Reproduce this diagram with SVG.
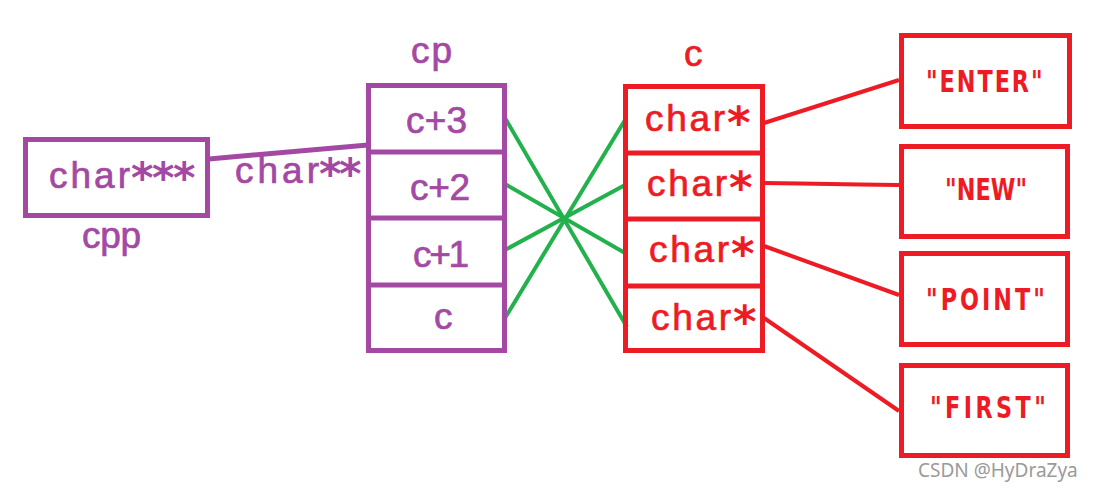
<svg xmlns="http://www.w3.org/2000/svg" width="1094" height="492" viewBox="0 0 1094 492">
<style>
.pbox{fill:none;stroke:#a349a4;stroke-width:5}
.rbox{fill:none;stroke:#ed1c24;stroke-width:5}
.pt{font-family:"Liberation Sans",Arial,sans-serif;font-size:37px;fill:#a349a4;stroke:#a349a4;stroke-width:0.7}
.rt{font-family:"Liberation Sans",Arial,sans-serif;font-size:37px;fill:#ed1c24;stroke:#ed1c24;stroke-width:0.7}
.pa{font-family:"DejaVu Sans",sans-serif;font-weight:bold;font-size:43px;fill:#a349a4}
.ra{font-family:"DejaVu Sans",sans-serif;font-weight:bold;font-size:45px;fill:#ed1c24}
.st{font-family:"DejaVu Sans",sans-serif;font-weight:bold;font-size:31px;fill:#ed1c24}
.g{stroke:#22b14c;stroke-width:4;fill:none}
.r{stroke:#ed1c24;stroke-width:4;fill:none}
.p{stroke:#a349a4;stroke-width:5;fill:none}
.wm{font-family:"Noto Sans","DejaVu Sans",sans-serif;font-size:19px;fill:#9a9a9a}
</style>
<g id="connectors">
<line class="p" x1="209" y1="159" x2="368" y2="145"/>
<text class="pt" x="235" y="183" textLength="84" lengthAdjust="spacing">char</text>
<text class="pa" x="319 339" y="189">**</text>
<line class="g" x1="505" y1="118" x2="627" y2="327"/>
<line class="g" x1="505" y1="184" x2="625" y2="253"/>
<line class="g" x1="505" y1="250" x2="625" y2="185"/>
<line class="g" x1="505" y1="318" x2="625" y2="120"/>
<line class="r" x1="764" y1="123" x2="899" y2="80"/>
<polyline class="r" points="764,183 800,183.5 860,184.5 899,185"/>
<line class="r" x1="764" y1="246" x2="899" y2="295"/>
<line class="r" x1="764" y1="318" x2="899" y2="411"/>
</g>
<g id="cpp">
<rect class="pbox" x="25.5" y="139.5" width="182" height="76"/>
<text class="pt" x="49" y="188" textLength="81" lengthAdjust="spacing">char</text>
<text class="pa" x="131 152 173" y="193">***</text>
<text class="pt" x="82" y="248" textLength="59" lengthAdjust="spacing">cpp</text>
</g>
<g id="cp">
<text class="pt" x="411" y="63" textLength="41" lengthAdjust="spacing">cp</text>
<rect class="pbox" x="368.5" y="85.5" width="136" height="265"/>
<line class="p" x1="368" y1="152" x2="505" y2="152"/>
<line class="p" x1="368" y1="218" x2="505" y2="218"/>
<line class="p" x1="368" y1="285" x2="505" y2="285"/>
<text class="pt" x="406" y="133" textLength="61" lengthAdjust="spacing">c+3</text>
<text class="pt" x="410" y="200" textLength="60" lengthAdjust="spacing">c+2</text>
<text class="pt" x="413" y="267" textLength="56" lengthAdjust="spacing">c+1</text>
<text class="pt" x="434" y="329">c</text>
</g>
<g id="c">
<text class="rt" x="684" y="66">c</text>
<rect class="rbox" x="625.5" y="86.5" width="137" height="264"/>
<line class="r" x1="625" y1="153" x2="763" y2="153" style="stroke-width:5"/>
<line class="r" x1="625" y1="219" x2="763" y2="219" style="stroke-width:5"/>
<line class="r" x1="625" y1="286" x2="763" y2="286" style="stroke-width:5"/>
<text class="rt" x="645" y="131" textLength="80" lengthAdjust="spacing">char</text>
<text class="ra" x="727" y="138">*</text>
<text class="rt" x="647" y="196" textLength="80" lengthAdjust="spacing">char</text>
<text class="ra" x="729" y="203">*</text>
<text class="rt" x="649" y="262" textLength="80" lengthAdjust="spacing">char</text>
<text class="ra" x="731" y="269">*</text>
<text class="rt" x="651" y="330" textLength="80" lengthAdjust="spacing">char</text>
<text class="ra" x="733" y="337">*</text>
</g>
<g id="s-enter">
<rect class="rbox" x="901.5" y="35.5" width="168" height="91"/>
<text class="st" transform="translate(926,92) scale(0.72,1)" textLength="162" lengthAdjust="spacing">"ENTER"</text>
</g>
<g id="s-new">
<rect class="rbox" x="901.5" y="146.5" width="166" height="90"/>
<text class="st" transform="translate(945,200) scale(0.72,1)" textLength="114" lengthAdjust="spacing">"NEW"</text>
</g>
<g id="s-point">
<rect class="rbox" x="901.5" y="253.5" width="166" height="91"/>
<text class="st" transform="translate(926,310) scale(0.72,1)" textLength="165" lengthAdjust="spacing">"POINT"</text>
</g>
<g id="s-first">
<rect class="rbox" x="901.5" y="365.5" width="166" height="90"/>
<text class="st" transform="translate(930,418) scale(0.72,1)" textLength="161" lengthAdjust="spacing">"FIRST"</text>
</g>
<text class="wm" x="918" y="477">CSDN @HyDraZya</text>
</svg>
